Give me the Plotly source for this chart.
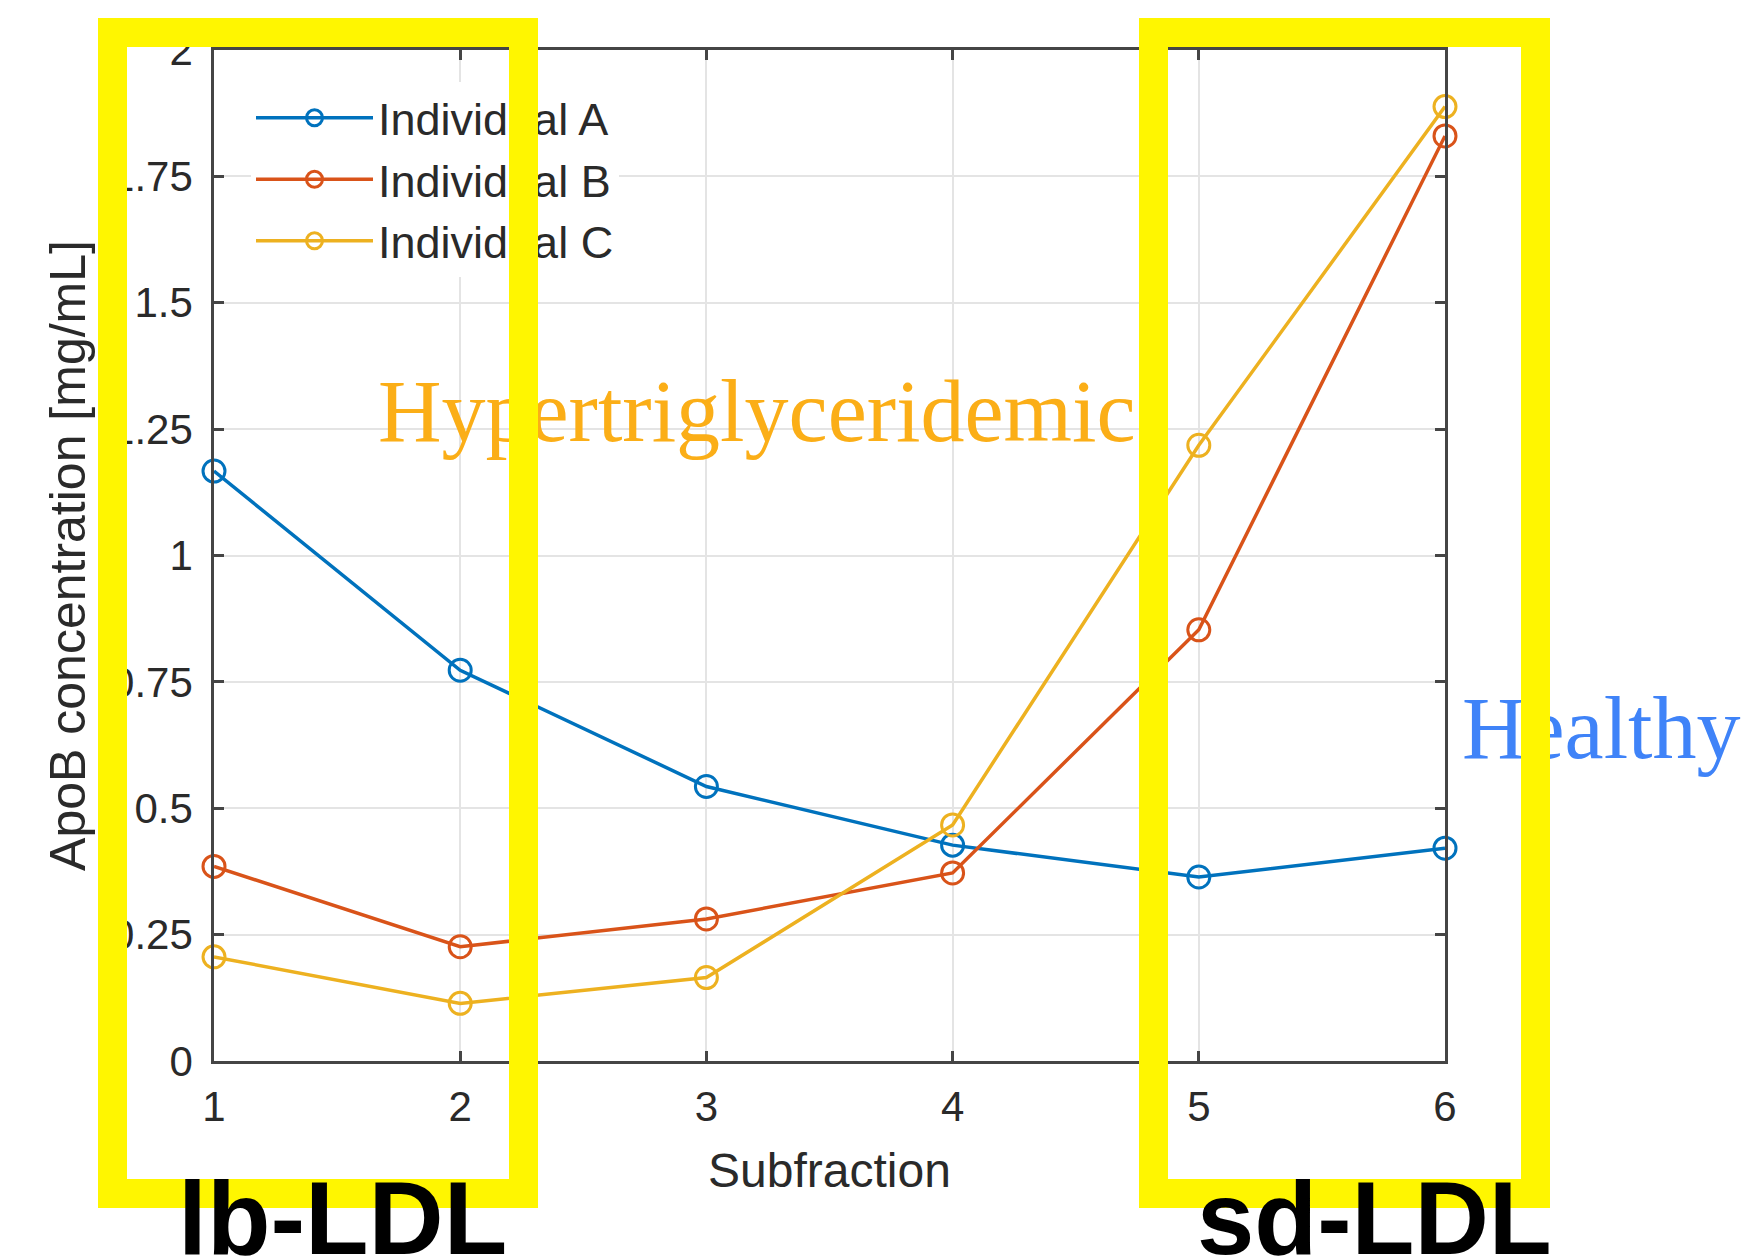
import plotly.graph_objects as go

# ---------------- data ----------------
subfraction = [1, 2, 3, 4, 5, 6]
individual_a = [1.167, 0.773, 0.543, 0.427, 0.364, 0.421]
individual_b = [0.385, 0.226, 0.281, 0.372, 0.853, 1.830]
individual_c = [0.206, 0.114, 0.165, 0.467, 1.218, 1.888]
series_names = ["Individual A", "Individual B", "Individual C"]
series_colors = ["#0072BD", "#D95319", "#EDB120"]
x_tick_values = [1, 2, 3, 4, 5, 6]
x_tick_labels = ["1", "2", "3", "4", "5", "6"]
y_tick_values = [0, 0.25, 0.5, 0.75, 1, 1.25, 1.5, 1.75, 2]
y_tick_labels = ["0", "0.25", "0.5", "0.75", "1", "1.25", "1.5", "1.75", "2"]
x_title = "Subfraction"
y_title = "ApoB concentration [mg/mL]"
group_labels = ["Hypertriglyceridemic", "Healthy"]
region_labels = ["lb-LDL", "sd-LDL"]

# ---------------- layout geometry (pixels) ----------------
W, H = 1742, 1257
L, R, T, B = 214, 1445, 50, 1061


def px(x):
    return (x - L) / (R - L)


def py(y):
    return (B - y) / (B - T)


AX = "#454545"
TXT = "#2a2a2a"
SANS = "Liberation Sans, Arial, Helvetica, sans-serif"
SERIF = "Liberation Serif, Times New Roman, serif"
YELLOW = "#FFF600"

fig = go.Figure()
for name, vals, col in zip(series_names, [individual_a, individual_b, individual_c], series_colors):
    fig.add_trace(go.Scatter(
        x=subfraction, y=vals, name=name, mode="lines+markers",
        line=dict(color=col, width=3.5),
        marker=dict(symbol="circle-open", size=22, color=col, line=dict(width=3, color=col)),
        cliponaxis=False,
    ))

annotations = []
# coloured group labels (under the yellow frames)
annotations.append(dict(text=group_labels[0], x=px(378), y=py(412), xref="paper", yref="paper",
                        xanchor="left", yanchor="middle", showarrow=False, borderpad=0, borderwidth=0,
                        font=dict(family=SERIF, size=88, color="#FBAE17")))
annotations.append(dict(text=group_labels[1], x=px(1462), y=py(728), xref="paper", yref="paper",
                        xanchor="left", yanchor="middle", showarrow=False, borderpad=0, borderwidth=0,
                        font=dict(family=SERIF, size=88, color="#3F83F8")))
# yellow frames
BW = 29
for left, right in [(98, 538), (1139, 1550)]:
    top, bottom = 18, 1208
    annotations.append(dict(text=" ", x=px(left), y=py(top), xref="paper", yref="paper",
                            xanchor="left", yanchor="top", showarrow=False,
                            width=(right - left) - 2 * BW, height=(bottom - top) - 2 * BW,
                            borderwidth=BW, borderpad=0, bordercolor=YELLOW,
                            bgcolor="rgba(0,0,0,0)"))
# bold region labels (on top)
annotations.append(dict(text=region_labels[0], x=px(178), y=py(1218), xref="paper", yref="paper",
                        xanchor="left", yanchor="middle", showarrow=False, borderpad=0, borderwidth=0,
                        font=dict(family=SANS, size=104, color="#000000", weight="bold")))
annotations.append(dict(text=region_labels[1], x=px(1197), y=py(1218), xref="paper", yref="paper",
                        xanchor="left", yanchor="middle", showarrow=False, borderpad=0, borderwidth=0,
                        font=dict(family=SANS, size=103, color="#000000", weight="bold")))

axis_common = dict(
    showline=True, linecolor=AX, linewidth=2.5, mirror="ticks",
    ticks="inside", ticklen=10, tickwidth=2.5, tickcolor=AX,
    showgrid=True, gridcolor="#e4e4e4", gridwidth=2,
    zeroline=False, automargin=False,
    tickfont=dict(family=SANS, size=42, color=TXT),
)

fig.update_layout(
    width=W, height=H,
    margin=dict(l=L, r=W - R, t=T, b=H - B, pad=0),
    paper_bgcolor="white", plot_bgcolor="white",
    xaxis=dict(range=[1, 6], tickvals=x_tick_values, ticktext=x_tick_labels,
               ticklabelstandoff=7,
               title=dict(text=x_title, font=dict(family=SANS, size=48, color=TXT), standoff=25),
               **axis_common),
    yaxis=dict(range=[0, 2], tickvals=y_tick_values, ticktext=y_tick_labels,
               ticklabelstandoff=10,
               title=dict(text=y_title, font=dict(family=SANS, size=50, color=TXT), standoff=10),
               **axis_common),
    showlegend=True,
    legend=dict(x=px(251), y=py(82), xanchor="left", yanchor="top",
                bgcolor="white", borderwidth=0, itemwidth=117,
                font=dict(family=SANS, size=45, color=TXT), tracegroupgap=0),
    annotations=annotations,
)

fig.write_html("out.html")
